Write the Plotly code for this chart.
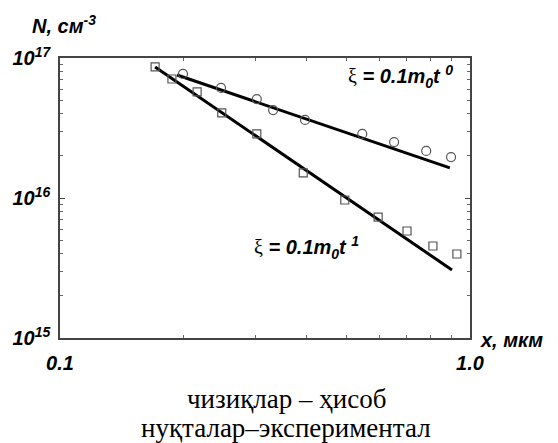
import plotly.graph_objects as go

# Measured concentrations (experiment)
x_circ = [0.1995, 0.247, 0.302, 0.331, 0.396, 0.546, 0.653, 0.782, 0.899]
n_circ = [7.69e16, 6.11e16, 5.09e16, 4.25e16, 3.61e16, 2.87e16, 2.51e16, 2.17e16, 1.96e16]

x_sq = [0.1706, 0.1875, 0.216, 0.248, 0.302, 0.392, 0.495, 0.597, 0.702, 0.812, 0.929]
n_sq = [8.63e16, 7.08e16, 5.72e16, 4.05e16, 2.87e16, 1.51e16, 9.68e15, 7.31e15, 5.81e15, 4.54e15, 3.98e15]

# Calculated profiles (end points of the straight log-log lines)
x_calc0 = [0.193, 0.893]
n_calc0 = [7.56e16, 1.64e16]
x_calc1 = [0.1706, 0.904]
n_calc1 = [8.63e16, 3.06e15]

x_tickvals = [0.1, 1.0]
x_ticktext = ["<b><i>0.1</i></b>", "<b><i>1.0</i></b>"]
y_tickvals = [1e15, 1e16, 1e17]
y_ticktext = ["<b><i>10<sup>15</sup></i></b>", "<b><i>10<sup>16</sup></i></b>", "<b><i>10<sup>17</sup></i></b>"]
x_minor = [0.2, 0.3, 0.4, 0.5, 0.6, 0.7, 0.8, 0.9]
y_minor = [m * 10 ** e for e in (15, 16) for m in range(2, 10)]

fig = go.Figure()
fig.add_trace(go.Scatter(x=x_calc0, y=n_calc0, mode="lines",
                         line=dict(color="black", width=3), showlegend=False))
fig.add_trace(go.Scatter(x=x_calc1, y=n_calc1, mode="lines",
                         line=dict(color="black", width=3), showlegend=False))
fig.add_trace(go.Scatter(x=x_circ, y=n_circ, mode="markers",
                         marker=dict(symbol="circle-open", size=9, color="#555555",
                                     line=dict(width=1.2)), showlegend=False))
fig.add_trace(go.Scatter(x=x_sq, y=n_sq, mode="markers",
                         marker=dict(symbol="square-open", size=8, color="#555555",
                                     line=dict(width=1.2)), showlegend=False))

axis_font = dict(family="Liberation Sans", size=20, color="black")

fig.update_xaxes(type="log", range=[-1, 0], tickmode="array",
                 tickvals=x_tickvals, ticktext=x_ticktext, tickfont=axis_font,
                 showline=True, linecolor="#444444", linewidth=1.5, mirror="ticks",
                 ticks="inside", ticklen=5, tickcolor="#444444",
                 minor=dict(tickmode="array", tickvals=x_minor, ticks="inside",
                            ticklen=3, tickcolor="#666666", showgrid=False),
                 showgrid=False, zeroline=False, ticklabelstandoff=6)
fig.update_yaxes(type="log", range=[15, 17], tickmode="array",
                 tickvals=y_tickvals, ticktext=y_ticktext, tickfont=axis_font,
                 showline=True, linecolor="#444444", linewidth=1.5, mirror="ticks",
                 ticks="inside", ticklen=5, tickcolor="#444444",
                 minor=dict(tickmode="array", tickvals=y_minor, ticks="inside",
                            ticklen=3, tickcolor="#666666", showgrid=False),
                 showgrid=False, zeroline=False, ticklabelstandoff=4)

fig.update_layout(
    width=558, height=443,
    margin=dict(l=60, r=88, t=58, b=105),
    paper_bgcolor="white", plot_bgcolor="white",
    font=dict(family="Liberation Sans", color="black"),
)


def px(xp, yp):
    # paper coordinates from pixel positions in the page
    return (xp - 60) / 410, 1 - (yp - 58) / 280


title_font = dict(family="Liberation Sans", size=20, color="black")
for txt, xp, yp in [
    ("<b><i>N, см<sup>-3</sup></i></b>", 30, 24),
    ("<b><i>x, мкм</i></b>", 478, 340),
]:
    xx, yy = px(xp, yp)
    fig.add_annotation(text=txt, x=xx, y=yy, xref="paper", yref="paper",
                       xanchor="left", yanchor="middle", showarrow=False, font=title_font)

label_font = dict(family="Liberation Sans", size=20, color="black")
for txt, xp, yp in [
    ("<span style='font-family:Liberation Serif'>ξ</span> <b><i>= 0.1m<sub>0</sub>t <sup>0</sup></i></b>", 400, 76),
    ("<span style='font-family:Liberation Serif'>ξ</span> <b><i>= 0.1m<sub>0</sub>t <sup>1</sup></i></b>", 306, 247),
]:
    xx, yy = px(xp, yp)
    fig.add_annotation(text=txt, x=xx, y=yy, xref="paper", yref="paper",
                       xanchor="center", yanchor="middle", showarrow=False, font=label_font)

cap_font = dict(family="Liberation Serif", size=27, color="black")
for txt, yp in [("чизиқлар – ҳисоб", 399), ("нуқталар–экспериментал", 428)]:
    xx, yy = px(286, yp)
    fig.add_annotation(text=txt, x=xx, y=yy, xref="paper", yref="paper",
                       xanchor="center", yanchor="middle", showarrow=False, font=cap_font)

fig.write_html("out.html")
